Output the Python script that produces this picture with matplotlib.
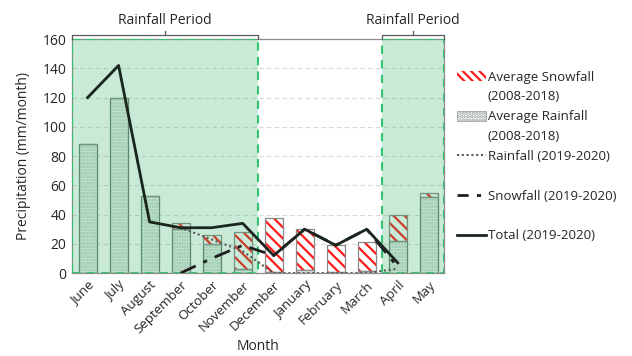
import numpy as np
import matplotlib
matplotlib.use("Agg")
import matplotlib.pyplot as plt
from matplotlib.patches import Rectangle, Patch
from matplotlib.lines import Line2D

plt.rcParams["font.family"] = ["Open Sans", "DejaVu Sans"]
plt.rcParams["hatch.linewidth"] = 1.6

# =====================================================
# Data
# =====================================================

months = ["June", "July", "August", "September", "October", "November",
          "December", "January", "February", "March", "April", "May"]

avg_rain = [88, 120, 53, 30, 20, 3, 0.5, 2, 0.5, 1.5, 22, 52]
avg_snow = [0, 0, 0, 4, 6, 25, 37.5, 28, 18.5, 19.5, 18, 3]

rain_1920 = [120, 142, 35, 31, 23, 15, 0, 0, 0, 0, 3, np.nan]
snow_1920 = [np.nan, np.nan, np.nan, 0, 10, 19, 12, 30, 19, 30, 4, np.nan]
total_1920 = [120, 142, 35, 31, 31, 34, 12, 30, 19, 30, 7, np.nan]

# rainfall periods (month index ranges)
periods = [(0, 5), (10, 11)]

# =====================================================
# Figure
# =====================================================

fig = plt.figure(figsize=(6.32, 3.56), dpi=100)
ax = fig.add_axes([0.114, 0.233, 0.589, 0.657])

x = np.arange(len(months))
w = 0.58

grid_c = "#d9d9d9"
edge_c = "#6f7f74"

# rain bars: dotted hatch + outline
ax.bar(x, avg_rain, w, color="white", edgecolor="#b9c6bc",
       hatch=".....", linewidth=0, zorder=2)
ax.bar(x, avg_rain, w, fill=False, edgecolor=edge_c, linewidth=0.9, zorder=2.2)

# snow bars stacked on rain
ax.bar(x, avg_snow, w, bottom=avg_rain, color="white", edgecolor="#ff1a1a",
       hatch="\\\\\\", linewidth=0, zorder=2)
ax.bar(x, avg_snow, w, bottom=avg_rain, fill=False, edgecolor="#8a8a8a",
       linewidth=0.9, zorder=2.2)

# green shaded periods on top of the bars
for a, b in periods:
    ax.axvspan(a - 0.5, b + 0.5, color="#27ae60", alpha=0.25,
               linewidth=0, zorder=3)
    ax.add_patch(Rectangle((a - 0.5, 0), b - a + 1, 160, fill=False,
                           edgecolor="#33c26e", linestyle=(0, (4, 3)),
                           linewidth=1.5, zorder=3.5))

# 2019-2020 lines
ax.plot(x, rain_1920, color="#5a5a5a", linestyle=(0, (1, 1.3)),
        linewidth=1.5, zorder=4)
ax.plot(x, snow_1920, color="#1e1e1e", linestyle=(0, (6, 3, 1.5, 3)),
        linewidth=2, zorder=4.2)
ax.plot(x, total_1920, color="#1b261e", linewidth=2, zorder=4.5)

ax.set_xlim(-0.5, len(months) - 0.5)
ax.set_ylim(0, 160)
ax.set_yticks(np.arange(0, 161, 20))
ax.yaxis.grid(True, color=grid_c, linestyle=(0, (4, 3)), linewidth=0.8)
ax.set_axisbelow(True)
ax.tick_params(length=0, labelsize=10, colors="#262626", pad=4)

ax.set_xticks(x)
ax.set_xticklabels(months, rotation=45, ha="right", rotation_mode="anchor",
                   fontsize=9.5)

for s in ax.spines.values():
    s.set_color("#8c8c8c")
    s.set_linewidth(0.9)

ax.set_ylabel("Precipitation (mm/month)", fontsize=10, color="#262626",
              labelpad=8)
ax.set_xlabel("Month", fontsize=10, color="#262626", labelpad=2)

# brackets with "Rainfall Period"
for a, b in periods:
    x0, x1 = a - 0.5, b + 0.5
    xm = (x0 + x1) / 2
    kw = dict(color="#595959", linewidth=0.9, clip_on=False, zorder=5)
    ax.plot([x0, x0, x1, x1], [160, 162.8, 162.8, 160], **kw)
    ax.plot([xm, xm], [162.8, 165.5], **kw)
    ax.text(xm, 167.5, "Rainfall Period", ha="center", va="bottom",
            fontsize=10, color="#262626", clip_on=False)

# legend built line by line
blank = Line2D([], [], color="none")
handles = [
    Patch(facecolor="white", edgecolor="#ff1a1a", hatch="\\\\\\\\", linewidth=0),
    blank,
    Patch(facecolor="white", edgecolor="#9aa39d", hatch=".....", linewidth=0.6),
    blank,
    Line2D([], [], color="#5a5a5a", linestyle=(0, (1, 1.3)), linewidth=1.5),
    blank,
    Line2D([], [], color="#1e1e1e", linestyle=(0, (4, 3, 1.5, 3)), linewidth=2),
    blank,
    Line2D([], [], color="#1b261e", linewidth=2),
]
labels = ["Average Snowfall", "(2008-2018)", "Average Rainfall", "(2008-2018)",
          "Rainfall (2019-2020)", "", "Snowfall (2019-2020)", "",
          "Total (2019-2020)"]
fig.legend(handles, labels, loc="upper left",
           bbox_to_anchor=(450 / 632, 1 - 64 / 356),
           frameon=False, fontsize=9.5, handlelength=2.2, handleheight=0.8,
           handletextpad=0.15, labelspacing=0.52, borderpad=0,
           labelcolor="#262626")

fig.savefig("out.png", dpi=100)
